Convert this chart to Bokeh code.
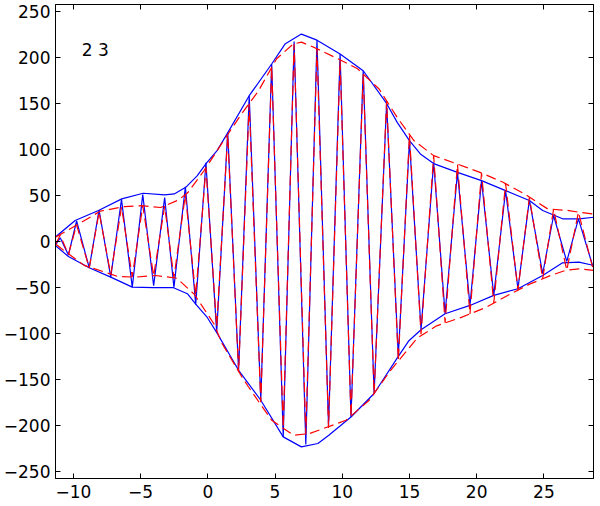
from bokeh.plotting import figure
from bokeh.models import LinearAxis, FixedTicker, Range1d, CustomLabelingPolicy
from bokeh.core.properties import value
from bokeh.embed import file_html
from bokeh.resources import INLINE

# Blue signal (extrema)
blue_x = [-11.28, -10.98, -10.37, -9.76, -8.82, -8.09, -7.22, -6.42, -5.62, -4.84, -4.03, -3.21,
          -2.52, -1.67, -0.90, -0.14, 0.66, 1.48, 2.29, 3.08, 3.94, 4.75, 5.61, 6.42, 7.29, 8.12,
          8.98, 9.84, 10.65, 11.56, 12.37, 13.30, 14.17, 15.00, 15.86, 16.80, 17.65, 18.57, 19.50,
          20.36, 21.27, 22.15, 23.07, 23.92, 24.91, 25.72, 26.70, 27.57, 28.62]
blue_y = [-2.5, 4.0, -14.7, 22.3, -28.6, 34.1, -38.8, 45.9, -49.7, 51.1, -48.2, 47.8,
          -50.0, 59.5, -68.5, 85.7, -98.9, 118.8, -140.2, 158.7, -172.8, 193.2, -212.7, 217.7, -221.0, 219.2,
          -201.1, 204.0, -191.0, 185.9, -165.5, 150.3, -125.0, 109.8, -96.0, 86.2, -78.6, 75.3, -69.6,
          66.3, -58.7, 55.4, -51.4, 45.3, -35.1, 28.3, -21.7, 24.7, -26.1]

# Blue envelope
env_up_x = [-11.35, -9.87, -8.13, -6.40, -4.81, -3.21, -2.50, -1.64, -0.78, -0.12, 0.69, 1.50, 3.08,
            4.75, 5.74, 6.96, 8.12, 9.84, 11.56, 13.30, 14.09, 15.00, 15.81, 16.80, 18.57, 20.36, 22.15,
            23.92, 24.91, 26.39, 27.61, 28.72]
env_up_y = [4.7, 22.8, 33.7, 46.4, 52.5, 50.8, 51.8, 59.0, 71.7, 85.1, 98.9, 118.8, 158.7,
            193.2, 214.9, 225.8, 219.2, 204.0, 185.9, 150.3, 129.7, 109.8, 95.3, 84.8, 75.3, 66.3, 55.4,
            44.6, 33.7, 24.7, 24.7, 26.4]
env_lo_x = [-11.35, -10.37, -8.82, -7.22, -5.62, -4.03, -2.55, -1.52, -0.90, -0.04, 0.69, 2.29, 3.94,
            5.61, 6.96, 8.19, 9.00, 10.65, 12.37, 14.17, 14.96, 15.86, 17.65, 19.50, 21.27, 23.07, 24.91,
            26.39, 27.61, 28.72]
env_lo_y = [-4.3, -16.3, -28.6, -38.8, -49.7, -50.3, -50.3, -56.8, -68.1, -82.7, -99.7, -140.2, -172.8,
            -212.7, -223.6, -219.9, -211.0, -191.0, -165.5, -125.0, -108.0, -96.0, -78.6, -69.6, -58.7,
            -51.4, -37.0, -23.2, -22.5, -26.1]

# Red dashed signal (extrema)
red_x = [-11.28, -10.98, -10.37, -9.76, -8.82, -8.09, -7.22, -6.42, -5.62, -4.84, -4.03, -3.21,
         -2.52, -1.67, -0.90, -0.14, 0.66, 1.48, 2.29, 3.08, 3.94, 4.75, 5.61, 6.42, 7.29, 8.12,
         8.98, 9.84, 10.65, 11.56, 12.37, 13.30, 14.17, 15.00, 15.86, 16.80, 17.65, 18.57, 19.50,
         20.36, 21.27, 22.15, 23.07, 23.92, 24.91, 25.72, 26.70, 27.57, 28.62]
red_y = [-2.0, 7.0, -14.0, 18.0, -29.0, 32.0, -36.0, 37.5, -38.5, 39.0, -37.5, 38.5,
         -39.5, 51.0, -59.0, 80.0, -93.0, 116.0, -142.0, 150.0, -175.0, 190.0, -203.0, 215.0, -210.0, 210.0,
         -203.0, 197.0, -191.0, 182.0, -166.0, 153.0, -130.0, 116.0, -101.0, 93.5, -88.5, 84.0, -79.0,
         74.5, -67.0, 63.0, -53.0, 48.0, -40.5, 35.0, -31.3, 32.0, -28.0]

# Red dashed envelope
red_up_x = [-11.3, -9.5, -8.0, -6.2, -4.9, -3.5, -2.2, -1.5, -0.29, 1.19, 2.42, 3.77, 5.12, 6.35, 6.96,
            7.95, 9.67, 11.14, 12.74, 14.09, 15.32, 16.80, 18.52, 20.24, 21.96, 23.55, 25.28, 26.87,
            27.61, 28.7]
red_up_y = [5, 20, 33, 38, 39, 37, 45, 53, 77, 110, 137, 164, 199, 215, 217,
            211, 199, 188, 166, 135, 110, 93.5, 84.5, 75.3, 64.5, 51.8, 35.5, 33.7,
            31.8, 30]
red_lo_x = [-11.3, -10.9, -9.2, -6.7, -5.4, -3.9, -2.3, -1.0, 0.45, 1.06, 2.54, 3.03, 4.75, 6.37, 7.58,
            10.28, 12.01, 13.6, 15.56, 17.02, 18.86, 20.7, 22.3, 23.9, 25.5, 26.6, 27.6, 28.7]
red_lo_y = [-3, -7.6, -26, -38, -38.8, -37, -40, -57.6, -89.5, -111, -147.5, -158.4, -194.6, -210.9, -209,
            -194.6, -172.8, -140.2, -105.4, -91.8, -82.6, -71.7, -58.7, -46.7, -37, -31.5, -29.7, -31.5]

x_ticks = [-10, -5, 0, 5, 10, 15, 20, 25]
x_labels = ["\u221210", "\u22125", "0", "5", "10", "15", "20", "25"]
y_ticks = [-250, -200, -150, -100, -50, 0, 50, 100, 150, 200, 250]
y_labels = ["\u2212250", "\u2212200", "\u2212150", "\u2212100", "\u221250", "0", "50", "100", "150", "200", "250"]

note_text = ["2 3"]
note_x = [-9.38]
note_y = [208]

FONT = "DejaVu Sans"
FS = "17px"

p = figure(width=594, height=504, x_range=Range1d(-11.33, 28.69), y_range=Range1d(-258, 258),
           output_backend="svg", toolbar_location=None,
           min_border_left=52, min_border_right=1, min_border_top=4, min_border_bottom=26)
p.xgrid.visible = False
p.ygrid.visible = False
p.outline_line_color = "black"
p.outline_line_width = 1
p.background_fill_color = "white"
p.border_fill_color = "white"

hide_all = CustomLabelingPolicy(code="for (const i of indices) { indices.unset(i) } return indices")


def style(ax, ticks, labels, show, standoff=3):
    ax.ticker = FixedTicker(ticks=ticks)
    ax.major_tick_in = 5
    ax.major_tick_out = 0
    ax.minor_tick_in = 0
    ax.minor_tick_out = 0
    ax.major_tick_line_color = "black"
    ax.axis_line_color = "black"
    if show:
        ax.major_label_overrides = {t: l for t, l in zip(ticks, labels)}
        ax.major_label_text_font = FONT
        ax.major_label_text_font_size = FS
        ax.major_label_text_color = "black"
        ax.major_label_standoff = standoff
    else:
        ax.major_label_text_font_size = "0px"
        ax.major_label_standoff = 0
        ax.major_label_policy = hide_all


style(p.xaxis[0], x_ticks, x_labels, True, standoff=6)
style(p.yaxis[0], y_ticks, y_labels, True, standoff=5)
top = LinearAxis()
style(top, x_ticks, x_labels, False)
right = LinearAxis()
style(right, y_ticks, y_labels, False)
p.add_layout(top, "above")
p.add_layout(right, "right")

# blue
p.line(blue_x, blue_y, line_color="#0000FF", line_width=1.2)
p.line(env_up_x, env_up_y, line_color="#0000FF", line_width=1.2)
p.line(env_lo_x, env_lo_y, line_color="#0000FF", line_width=1.2)
# red dashed
p.line(red_x, red_y, line_color="#FF0000", line_width=1.2, line_dash="10 5")
p.line(red_up_x, red_up_y, line_color="#FF0000", line_width=1.2, line_dash="10 5")
p.line(red_lo_x, red_lo_y, line_color="#FF0000", line_width=1.2, line_dash="10 5")

p.text(x=note_x, y=note_y, text=note_text, text_font=value(FONT), text_font_size=FS,
       text_color="black", text_baseline="alphabetic", text_align="left")

open("out.html", "w").write(file_html(p, INLINE))
